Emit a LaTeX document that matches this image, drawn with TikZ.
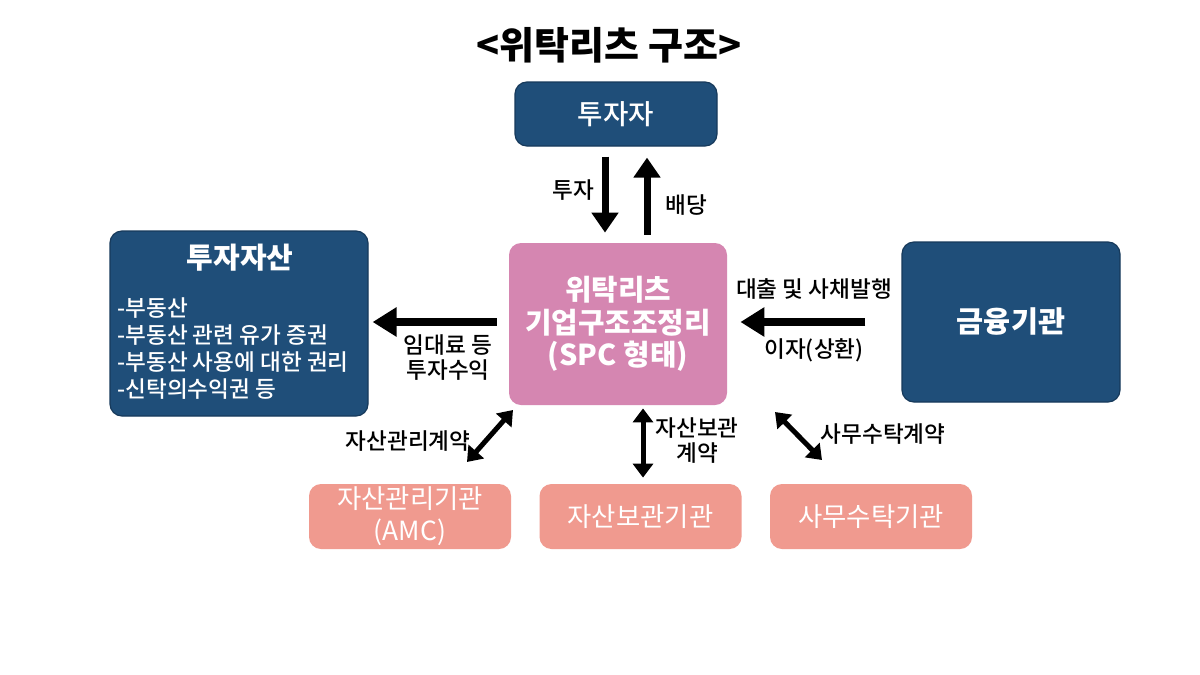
\documentclass[tikz,border=0pt]{standalone}
\usepackage{fontspec}
\setmainfont{Noto Sans CJK KR}[BoldFont={Noto Sans CJK KR Bold}]
\newfontfamily\blk{Noto Sans CJK KR Black}
\newfontfamily\med{Noto Sans CJK KR Medium}
\usetikzlibrary{arrows.meta}
\definecolor{navy}{HTML}{1F4E79}
\definecolor{spcpink}{HTML}{D586B1}
\definecolor{salmon}{HTML}{F09A8F}
\tikzset{
  navybox/.style={rectangle, rounded corners=6pt, fill=navy, draw=navy!75!black, line width=0.6pt, text=white, inner sep=0pt},
  pinkbox/.style={rectangle, rounded corners=6pt, fill=spcpink, text=white, inner sep=0pt},
  salbox/.style={rectangle, rounded corners=6pt, fill=salmon, text=white, inner sep=0pt, minimum width=101pt, minimum height=32.5pt, align=center, font=\fontsize{13.2}{16}\selectfont},
  lbl/.style={text=black, align=center, font=\med\fontsize{11.3}{12.5}\selectfont, inner sep=0pt},
  bigarr/.style={line width=4pt, -{Triangle[length=12pt,width=14pt]}},
  varr/.style={line width=3.5pt, -{Triangle[length=10pt,width=13pt]}},
  dblarr/.style={line width=2.5pt, {Triangle[length=7pt,width=10pt]}-{Triangle[length=7pt,width=10pt]}}
}
\begin{document}
\begin{tikzpicture}[x=0.5pt,y=-0.5pt]
\useasboundingbox (0,0) rectangle (1200,675);
\fill[white] (0,0) rectangle (1200,675);
% title
\node[font=\blk\fontsize{19}{21}\selectfont, inner sep=0pt] (title) at (609,45) {<위탁리츠 구조>};
% boxes
\node[navybox, minimum width=101pt, minimum height=32pt, font=\med\fontsize{13.8}{15}\selectfont] (inv) at (616,114) {투자자};
\node[navybox, minimum width=129pt, minimum height=92.5pt] (asset) at (239,323.5) {};
\node[text=white, font=\blk\fontsize{14.5}{16}\selectfont, inner sep=0pt] (assethead) at (240,258) {투자자산};
\node[text=white, anchor=west, align=left, font=\med\fontsize{11.3}{13.5}\selectfont, inner sep=0pt] (assetlist) at (117,349) {-부동산\\-부동산 관련 유가 증권\\-부동산 사용에 대한 권리\\-신탁의수익권 등};
\node[pinkbox, minimum width=109pt, minimum height=81pt, align=center, font=\blk\fontsize{14.4}{16.25}\selectfont] (spc) at (618,324) {위탁리츠\\기업구조조정리\\(SPC 형태)};
\node[navybox, minimum width=109pt, minimum height=80pt, font=\blk\fontsize{14.7}{16}\selectfont] (fin) at (1011,322) {금융기관};
\node[salbox] (amc) at (410,516.5) {자산관리기관\\(AMC)};
\node[salbox] (cust) at (640.5,516.5) {자산보관기관};
\node[salbox] (admin) at (871,516.5) {사무수탁기관};
% arrows
\draw[varr, shorten <=5pt, shorten >=5pt] (inv.south -| 605,0) -- (spc.north -| 605,0);
\draw[varr, shorten <=4pt, shorten >=5.5pt] (spc.north -| 647,0) -- (inv.south -| 647,0);
\draw[bigarr, shorten <=6pt, shorten >=2pt] (spc.west |- 0,322) -- (asset.east |- 0,322);
\draw[bigarr, shorten <=18pt, shorten >=6.5pt] (fin.west |- 0,322) -- (spc.east |- 0,322);
\draw[dblarr, shorten <=1.5pt, shorten >=3pt] (spc.south -| 643,0) -- (cust.north -| 643,0);
\coordinate (d1a) at (513,410);
\coordinate (d1b) at (467,462);
\coordinate (d2a) at (775,412);
\coordinate (d2b) at (822,460);
\draw[dblarr] (d1a) -- (d1b);
\draw[dblarr] (d2a) -- (d2b);
% labels
\node[lbl] (l1) at (573,190) {투자};
\node[lbl] (l2) at (686,205) {배당};
\node[lbl] (l3) at (448,358) {임대료 등\\투자수익};
\node[lbl] (l4) at (814,289) {대출 및 사채발행};
\node[lbl] (l5) at (814,350) {이자(상환)};
\node[lbl] (l6) at (408,441) {자산관리계약};
\node[lbl] (l7) at (697,441) {자산보관\\계약};
\node[lbl] (l8) at (883,434) {사무수탁계약};
\end{tikzpicture}
\end{document}
